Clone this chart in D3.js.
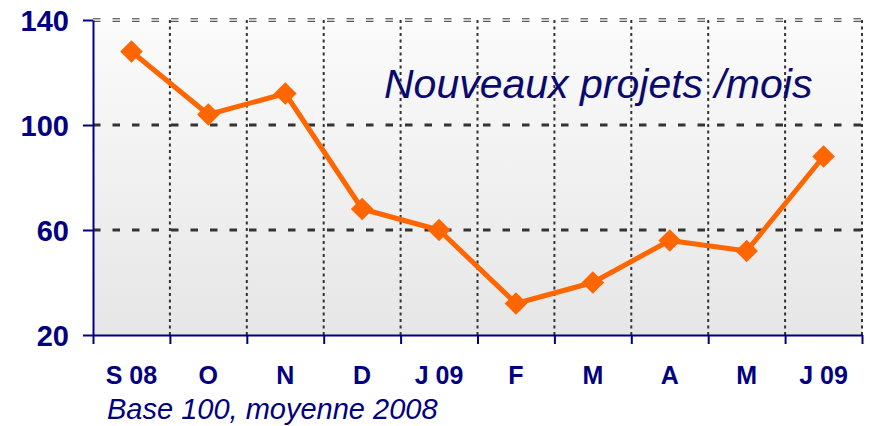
<!DOCTYPE html>
<html>
<head>
<meta charset="utf-8">
<script src="https://cdn.jsdelivr.net/npm/d3@7"></script>
<style>
  html, body { margin: 0; padding: 0; background: #fff; }
  svg { display: block; font-family: Arial, "Liberation Sans", sans-serif; }
</style>
</head>
<body>
<svg id="chart" width="870" height="426"></svg>
<script>
const months = ["S 08", "O", "N", "D", "J 09", "F", "M", "A", "M", "J 09"];
const values = [128, 104, 112, 68, 60, 32, 40, 56, 52, 88];
const yTicks = [20, 60, 100, 140];
const title = "Nouveaux projets /mois";
const subtitle = "Base 100, moyenne 2008";

const svg = d3.select("#chart");
const L = 93, R = 862, T = 20, B = 335;
const navy = "#000080";

const x = d3.scaleLinear().domain([0, months.length]).range([L, R]);
const y = d3.scaleLinear().domain([20, 140]).range([B, T]);

// background gradient
const defs = svg.append("defs");
const grad = defs.append("linearGradient").attr("id", "bg")
  .attr("x1", 0).attr("y1", 0).attr("x2", 0).attr("y2", 1);
grad.append("stop").attr("offset", "0%").attr("stop-color", "#fbfbfb");
grad.append("stop").attr("offset", "100%").attr("stop-color", "#e6e6e6");
svg.append("rect").attr("x", L).attr("y", T).attr("width", R - L).attr("height", B - T)
  .attr("fill", "url(#bg)");

// vertical dotted gridlines at band boundaries
const bounds = d3.range(1, months.length + 1);
svg.append("g").selectAll("line").data(bounds).join("line")
  .attr("x1", d => x(d)).attr("x2", d => x(d))
  .attr("y1", T).attr("y2", B)
  .attr("stroke", "#333").attr("stroke-width", 2).attr("stroke-dasharray", "3,3.5");

// horizontal dashed gridlines
svg.append("g").selectAll("line").data(yTicks.filter(v => v > 20 && v < 140)).join("line")
  .attr("x1", L).attr("x2", R)
  .attr("y1", d => y(d)).attr("y2", d => y(d))
  .attr("stroke", "#333").attr("stroke-width", 3.2).attr("stroke-dasharray", "7.5,12");
// top gridline (double thin)
[-1.2, 1.3].forEach(off => {
  svg.append("line").attr("x1", L).attr("x2", R)
    .attr("y1", y(140) + off).attr("y2", y(140) + off)
    .attr("stroke", "#333").attr("stroke-width", 1).attr("stroke-dasharray", "7.5,12");
});

// line
const line = d3.line().x((d, i) => x(i + 0.5)).y(d => y(d));
svg.append("path").datum(values).attr("d", line)
  .attr("fill", "none").attr("stroke", "#ff6600").attr("stroke-width", 5)
  .attr("stroke-linejoin", "round");

// diamond markers
const sym = d3.symbol(d3.symbolSquare, 256);
svg.append("g").selectAll("path").data(values).join("path")
  .attr("d", sym)
  .attr("transform", (d, i) => `translate(${x(i + 0.5)},${y(d)}) rotate(45)`)
  .attr("fill", "#ff6600");

// y axis
const yAxis = svg.append("g").attr("transform", `translate(${L},0)`)
  .call(d3.axisLeft(y).tickValues(yTicks).tickSize(10).tickSizeOuter(0).tickPadding(14));
yAxis.select(".domain").attr("stroke", navy).attr("stroke-width", 2);
yAxis.selectAll(".tick line").attr("stroke", navy).attr("stroke-width", 2);
yAxis.selectAll(".tick text").attr("fill", navy).attr("font-size", 29)
  .attr("font-weight", "bold").attr("dy", "0.36em");

// x axis (ticks at band boundaries)
const xAxis = svg.append("g").attr("transform", `translate(0,${B})`)
  .call(d3.axisBottom(x).tickValues(d3.range(0, months.length + 1)).tickSize(9)
    .tickSizeOuter(0).tickFormat(""));
xAxis.select(".domain").attr("stroke", navy).attr("stroke-width", 2);
xAxis.selectAll(".tick line").attr("stroke", navy).attr("stroke-width", 2);

svg.append("g").selectAll("text").data(months).join("text")
  .attr("x", (d, i) => x(i + 0.5)).attr("y", 384)
  .attr("text-anchor", "middle").attr("fill", navy)
  .attr("font-size", 25).attr("font-weight", "bold")
  .text(d => d);

// title
svg.append("text").attr("x", 384).attr("y", 98)
  .attr("fill", "#0a0a6e").attr("font-size", 41).attr("font-style", "italic")
  .text(title);

// subtitle
svg.append("text").attr("x", 107).attr("y", 419)
  .attr("fill", navy).attr("font-size", 29).attr("font-style", "italic")
  .text(subtitle);
</script>
</body>
</html>
